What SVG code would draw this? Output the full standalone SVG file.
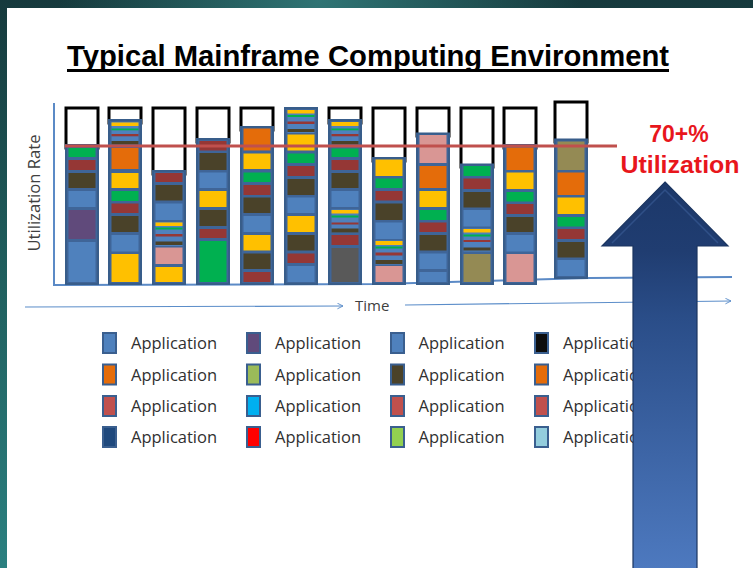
<svg xmlns="http://www.w3.org/2000/svg" width="753" height="568" viewBox="0 0 753 568">
  <defs>
    <linearGradient id="bgFade" x1="0" y1="0" x2="0" y2="1">
      <stop offset="0" stop-color="#163a3d"/>
      <stop offset="0.5" stop-color="#20605f"/>
      <stop offset="1" stop-color="#2b8080"/>
    </linearGradient>
    <radialGradient id="bgGlow" cx="320" cy="0" r="260" gradientUnits="userSpaceOnUse">
      <stop offset="0" stop-color="#2f7474" stop-opacity="1"/>
      <stop offset="1" stop-color="#2f7474" stop-opacity="0"/>
    </radialGradient>
    <linearGradient id="upArrowFill" x1="0" y1="182" x2="0" y2="568" gradientUnits="userSpaceOnUse">
      <stop offset="0" stop-color="#1c386a"/>
      <stop offset="0.18" stop-color="#203d71"/>
      <stop offset="0.35" stop-color="#2a4d88"/>
      <stop offset="1" stop-color="#4d79bf"/>
    </linearGradient>
    <marker id="chev" viewBox="0 0 10 10" refX="9" refY="5" markerWidth="7" markerHeight="7" orient="auto" markerUnits="userSpaceOnUse">
      <path d="M1,1 L9,5 L1,9" fill="none" stroke="#5b8dc9" stroke-width="1.3"/>
    </marker>
  </defs>
  <style>
    .frame { fill: #ffffff; stroke: #000000; stroke-width: 3; }
    .stack { fill: #3f6598; stroke: #385d8a; stroke-width: 2; }
    .g { fill: #00b050; } .r { fill: #953735; } .d { fill: #4a4229; }
    .b { fill: #4f81bd; } .y { fill: #ffc000; } .o { fill: #e46c0a; }
    .p { fill: #604a7b; } .k { fill: #d99694; } .v { fill: #948a54; }
    .s { fill: #595959; }
    .sw { stroke: #3a5f8f; stroke-width: 2; }
    .lt { font-family: "Open Sans", "Liberation Sans", sans-serif; font-size: 16.5px; fill: #303030; }
    .axis { fill: none; stroke: #5b8ac6; stroke-width: 2; }
    .time { fill: none; stroke: #5b8dc9; stroke-width: 1.2; }
  </style>

  <!-- backdrop and white slide panel -->
  <rect x="0" y="0" width="753" height="568" fill="url(#bgFade)"/>
  <rect x="0" y="0" width="753" height="568" fill="url(#bgGlow)"/>
  <rect x="7" y="8" width="746" height="560" fill="#ffffff"/>

  <!-- title -->
  <g id="title">
    <text x="67" y="66" font-family="Liberation Sans, Arial, sans-serif" font-weight="bold" font-size="29" fill="#000" textLength="602" lengthAdjust="spacingAndGlyphs">Typical Mainframe Computing Environment</text>
    <rect x="67" y="69" width="602" height="3" fill="#000"/>
  </g>

  <!-- axes -->
  <g id="axes">
    <line class="axis" x1="54" y1="103" x2="54" y2="285"/>
    <polyline class="axis" points="53,285 380,284 590,278 732,277"/>
    <text transform="translate(40,193) rotate(-90)" text-anchor="middle" font-family="Open Sans, Liberation Sans, sans-serif" font-size="16" fill="#404040" textLength="117" lengthAdjust="spacingAndGlyphs">Utilization Rate</text>
  </g>

  <!-- bars: empty capacity frame + stacked workload -->
  <g id="bar1">
    <rect class="frame" x="66" y="108" width="32" height="40"/>
    <rect class="stack" x="66" y="145" width="32" height="139"/>
    <rect class="g" x="68.5" y="148" width="27" height="9"/>
    <rect class="r" x="68.5" y="160" width="27" height="10"/>
    <rect class="d" x="68.5" y="173" width="27" height="15"/>
    <rect class="b" x="68.5" y="191" width="27" height="16"/>
    <rect class="p" x="68.5" y="210" width="27" height="29"/>
    <rect class="b" x="68.5" y="242" width="27" height="40"/>
  </g>
  <g id="bar2">
    <rect class="frame" x="109" y="108" width="32" height="15"/>
    <rect class="stack" x="109" y="120" width="32" height="164"/>
    <rect class="b" x="111.5" y="122" width="27" height="23"/>
    <rect class="y" x="111.5" y="122.5" width="27" height="3.5"/>
    <rect class="g" x="111.5" y="128.5" width="27" height="1.8"/>
    <rect class="r" x="111.5" y="134" width="27" height="2.3"/>
    <rect class="d" x="111.5" y="141" width="27" height="3.5"/>
    <rect class="o" x="111.5" y="148" width="27" height="21"/>
    <rect class="y" x="111.5" y="173" width="27" height="15"/>
    <rect class="g" x="111.5" y="191" width="27" height="10"/>
    <rect class="r" x="111.5" y="203.5" width="27" height="9.5"/>
    <rect class="d" x="111.5" y="216" width="27" height="16"/>
    <rect class="b" x="111.5" y="235" width="27" height="16.5"/>
    <rect class="y" x="111.5" y="254" width="27" height="28"/>
  </g>
  <g id="bar3">
    <rect class="frame" x="153" y="108" width="32" height="66"/>
    <rect class="stack" x="153" y="171" width="32" height="113"/>
    <rect class="r" x="155.5" y="173" width="27" height="9"/>
    <rect class="d" x="155.5" y="185" width="27" height="15.5"/>
    <rect class="b" x="155.5" y="203.5" width="27" height="16.5"/>
    <rect class="b" x="155.5" y="222" width="27" height="24"/>
    <rect class="y" x="155.5" y="222.5" width="27" height="3.5"/>
    <rect class="g" x="155.5" y="227.5" width="27" height="2"/>
    <rect class="r" x="155.5" y="234" width="27" height="2.5"/>
    <rect class="d" x="155.5" y="241.5" width="27" height="3.5"/>
    <rect class="k" x="155.5" y="247.5" width="27" height="16.5"/>
    <rect class="y" x="155.5" y="267" width="27" height="15"/>
  </g>
  <g id="bar4">
    <rect class="frame" x="197" y="108" width="32" height="34"/>
    <rect class="stack" x="197" y="139" width="32" height="145"/>
    <rect class="r" x="199.5" y="141" width="27" height="9.5"/>
    <rect class="d" x="199.5" y="153" width="27" height="17"/>
    <rect class="b" x="199.5" y="172.5" width="27" height="15.5"/>
    <rect class="y" x="199.5" y="191" width="27" height="16"/>
    <rect class="d" x="199.5" y="210" width="27" height="16"/>
    <rect class="r" x="199.5" y="229" width="27" height="9"/>
    <rect class="g" x="199.5" y="241" width="27" height="41"/>
  </g>
  <g id="bar5">
    <rect class="frame" x="241" y="108" width="32" height="22"/>
    <rect class="stack" x="241" y="127" width="32" height="157"/>
    <rect class="o" x="243.5" y="128.5" width="27" height="22"/>
    <rect class="y" x="243.5" y="153.5" width="27" height="15.5"/>
    <rect class="g" x="243.5" y="172.5" width="27" height="9.5"/>
    <rect class="r" x="243.5" y="185" width="27" height="10"/>
    <rect class="d" x="243.5" y="197.5" width="27" height="15.5"/>
    <rect class="b" x="243.5" y="216" width="27" height="16"/>
    <rect class="y" x="243.5" y="235" width="27" height="15.5"/>
    <rect class="d" x="243.5" y="253.5" width="27" height="15.5"/>
    <rect class="r" x="243.5" y="272" width="27" height="10"/>
  </g>
  <g id="bar6">
    <rect class="stack" x="285" y="108" width="32" height="176"/>
    <rect class="b" x="287.5" y="110" width="27" height="23"/>
    <rect class="y" x="287.5" y="110" width="27" height="3.5"/>
    <rect class="g" x="287.5" y="115" width="27" height="2"/>
    <rect class="r" x="287.5" y="121.5" width="27" height="2.5"/>
    <rect class="d" x="287.5" y="129" width="27" height="3"/>
    <rect class="y" x="287.5" y="134.5" width="27" height="16"/>
    <rect class="g" x="287.5" y="153.5" width="27" height="9.5"/>
    <rect class="r" x="287.5" y="166" width="27" height="10"/>
    <rect class="d" x="287.5" y="179" width="27" height="16"/>
    <rect class="b" x="287.5" y="197.5" width="27" height="15.5"/>
    <rect class="y" x="287.5" y="216" width="27" height="16"/>
    <rect class="d" x="287.5" y="235" width="27" height="15.5"/>
    <rect class="r" x="287.5" y="253.5" width="27" height="9.5"/>
    <rect class="b" x="287.5" y="266" width="27" height="16"/>
  </g>
  <g id="bar7">
    <rect class="frame" x="329" y="108" width="32" height="15"/>
    <rect class="stack" x="329" y="120" width="32" height="164"/>
    <rect class="b" x="331.5" y="122" width="27" height="23"/>
    <rect class="y" x="331.5" y="122" width="27" height="4"/>
    <rect class="g" x="331.5" y="128.5" width="27" height="1.8"/>
    <rect class="r" x="331.5" y="134" width="27" height="2.3"/>
    <rect class="d" x="331.5" y="141" width="27" height="3.5"/>
    <rect class="g" x="331.5" y="148.5" width="27" height="8.5"/>
    <rect class="r" x="331.5" y="160" width="27" height="10"/>
    <rect class="d" x="331.5" y="173" width="27" height="15"/>
    <rect class="b" x="331.5" y="191" width="27" height="16"/>
    <rect class="b" x="331.5" y="209.5" width="27" height="23"/>
    <rect class="y" x="331.5" y="210" width="27" height="3.5"/>
    <rect class="g" x="331.5" y="215.5" width="27" height="2"/>
    <rect class="r" x="331.5" y="222.5" width="27" height="2"/>
    <rect class="d" x="331.5" y="228.5" width="27" height="4"/>
    <rect class="r" x="331.5" y="235" width="27" height="10"/>
    <rect class="s" x="331.5" y="248" width="27" height="34"/>
  </g>
  <g id="bar8">
    <rect class="frame" x="373" y="108" width="32" height="53"/>
    <rect class="stack" x="373" y="158" width="32" height="126"/>
    <rect class="y" x="375.5" y="159.5" width="27" height="16.5"/>
    <rect class="g" x="375.5" y="178.5" width="27" height="9.5"/>
    <rect class="r" x="375.5" y="191" width="27" height="9.5"/>
    <rect class="d" x="375.5" y="203.5" width="27" height="16.5"/>
    <rect class="b" x="375.5" y="222.5" width="27" height="16.5"/>
    <rect class="b" x="375.5" y="240.5" width="27" height="24"/>
    <rect class="y" x="375.5" y="241" width="27" height="4"/>
    <rect class="g" x="375.5" y="246.5" width="27" height="2"/>
    <rect class="r" x="375.5" y="252.5" width="27" height="3"/>
    <rect class="d" x="375.5" y="260" width="27" height="4"/>
    <rect class="k" x="375.5" y="266" width="27" height="16"/>
  </g>
  <g id="bar9">
    <rect class="frame" x="417" y="108" width="32" height="28"/>
    <rect class="stack" x="417" y="133.5" width="32" height="150.5"/>
    <rect class="k" x="419.5" y="135" width="27" height="28"/>
    <rect class="o" x="419.5" y="166" width="27" height="22"/>
    <rect class="y" x="419.5" y="191" width="27" height="16"/>
    <rect class="g" x="419.5" y="210" width="27" height="10"/>
    <rect class="r" x="419.5" y="222.5" width="27" height="9.5"/>
    <rect class="d" x="419.5" y="235" width="27" height="15.5"/>
    <rect class="b" x="419.5" y="253.5" width="27" height="15.5"/>
    <rect class="b" x="419.5" y="272" width="27" height="10"/>
  </g>
  <g id="bar10">
    <rect class="frame" x="461" y="108" width="32" height="59"/>
    <rect class="stack" x="461" y="164.5" width="32" height="119.5"/>
    <rect class="g" x="463.5" y="166" width="27" height="10"/>
    <rect class="r" x="463.5" y="178.5" width="27" height="10.5"/>
    <rect class="d" x="463.5" y="192" width="27" height="15.5"/>
    <rect class="b" x="463.5" y="210" width="27" height="16.5"/>
    <rect class="b" x="463.5" y="228.5" width="27" height="23"/>
    <rect class="y" x="463.5" y="229" width="27" height="3.5"/>
    <rect class="g" x="463.5" y="234.5" width="27" height="2"/>
    <rect class="r" x="463.5" y="240" width="27" height="2"/>
    <rect class="d" x="463.5" y="247.5" width="27" height="3"/>
    <rect class="v" x="463.5" y="254" width="27" height="28"/>
  </g>
  <g id="bar11">
    <rect class="frame" x="504" y="108" width="32" height="40"/>
    <rect class="stack" x="504" y="145" width="32" height="139"/>
    <rect class="o" x="506.5" y="147.5" width="27" height="22.5"/>
    <rect class="y" x="506.5" y="172.5" width="27" height="16.5"/>
    <rect class="g" x="506.5" y="192" width="27" height="9.5"/>
    <rect class="r" x="506.5" y="204" width="27" height="10"/>
    <rect class="d" x="506.5" y="217" width="27" height="15"/>
    <rect class="b" x="506.5" y="235" width="27" height="16.5"/>
    <rect class="k" x="506.5" y="254" width="27" height="28"/>
  </g>
  <g id="bar12">
    <rect class="frame" x="555" y="102" width="32" height="40"/>
    <rect class="stack" x="555" y="139.5" width="32" height="138.5"/>
    <rect class="v" x="557.5" y="141.5" width="27" height="28.5"/>
    <rect class="o" x="557.5" y="172.5" width="27" height="22.5"/>
    <rect class="y" x="557.5" y="197.5" width="27" height="16.5"/>
    <rect class="g" x="557.5" y="217" width="27" height="9.5"/>
    <rect class="r" x="557.5" y="229" width="27" height="10"/>
    <rect class="d" x="557.5" y="242" width="27" height="15.5"/>
    <rect class="b" x="557.5" y="260" width="27" height="16"/>
  </g>

  <!-- 70% threshold line -->
  <g id="threshold">
    <line x1="65" y1="146" x2="617" y2="146" stroke="#c0504d" stroke-width="3"/>
  </g>

  <!-- time axis arrows -->
  <g id="connectors">
    <line class="time" x1="25" y1="307" x2="343" y2="306" marker-end="url(#chev)"/>
    <line class="time" x1="405" y1="305" x2="731" y2="301" marker-end="url(#chev)"/>
  </g>
  <g id="timeLabel">
    <text x="355" y="311" font-family="Open Sans, Liberation Sans, sans-serif" font-size="15" fill="#404040">Time</text>
  </g>

  <!-- legend -->
  <g id="legend">
    <rect class="sw" x="103" y="333" width="13" height="20" fill="#4f81bd"/>
    <rect class="sw" x="103" y="364.5" width="13" height="20" fill="#e46c0a"/>
    <rect class="sw" x="103" y="396" width="13" height="20" fill="#c0504d"/>
    <rect class="sw" x="103" y="427" width="13" height="20" fill="#1f497d"/>
    <rect class="sw" x="247" y="333" width="13" height="20" fill="#604a7b"/>
    <rect class="sw" x="247" y="364.5" width="13" height="20" fill="#9bbb59"/>
    <rect class="sw" x="247" y="396" width="13" height="20" fill="#00b0f0"/>
    <rect class="sw" x="247" y="427" width="13" height="20" fill="#ff0000"/>
    <rect class="sw" x="391" y="333" width="13" height="20" fill="#4f81bd"/>
    <rect class="sw" x="391" y="364.5" width="13" height="20" fill="#4a4229"/>
    <rect class="sw" x="391" y="396" width="13" height="20" fill="#c0504d"/>
    <rect class="sw" x="391" y="427" width="13" height="20" fill="#92d050"/>
    <rect class="sw" x="535" y="333" width="13" height="20" fill="#0d0d0d"/>
    <rect class="sw" x="535" y="364.5" width="13" height="20" fill="#e46c0a"/>
    <rect class="sw" x="535" y="396" width="13" height="20" fill="#c0504d"/>
    <rect class="sw" x="535" y="427" width="13" height="20" fill="#93cddd"/>

    <text class="lt" x="131" y="349" textLength="86">Application</text>
    <text class="lt" x="131" y="380.5" textLength="86">Application</text>
    <text class="lt" x="131" y="412" textLength="86">Application</text>
    <text class="lt" x="131" y="443" textLength="86">Application</text>
    <text class="lt" x="275" y="349" textLength="86">Application</text>
    <text class="lt" x="275" y="380.5" textLength="86">Application</text>
    <text class="lt" x="275" y="412" textLength="86">Application</text>
    <text class="lt" x="275" y="443" textLength="86">Application</text>
    <text class="lt" x="418.5" y="349" textLength="86">Application</text>
    <text class="lt" x="418.5" y="380.5" textLength="86">Application</text>
    <text class="lt" x="418.5" y="412" textLength="86">Application</text>
    <text class="lt" x="418.5" y="443" textLength="86">Application</text>
    <text class="lt" x="563" y="349" textLength="86">Application</text>
    <text class="lt" x="563" y="380.5" textLength="86">Application</text>
    <text class="lt" x="563" y="412" textLength="86">Application</text>
    <text class="lt" x="563" y="443" textLength="86">Application</text>
  </g>

  <!-- utilization callout -->
  <g id="callout">
    <text x="679" y="142" text-anchor="middle" font-family="Liberation Sans, Arial, sans-serif" font-weight="bold" font-size="23" fill="#e8161c">70+%</text>
    <text x="680" y="172.5" text-anchor="middle" font-family="Liberation Sans, Arial, sans-serif" font-weight="bold" font-size="24" fill="#e8161c" textLength="119" lengthAdjust="spacingAndGlyphs">Utilization</text>
  </g>

  <!-- big up arrow -->
  <g id="upArrow">
    <polygon points="665,182 728,246 697,246 697,570 633,570 633,246 602,246" fill="url(#upArrowFill)" stroke="#1b3560" stroke-width="1.2"/>
    <path d="M612,243 L665,190 L718,243" fill="none" stroke="#3c5f99" stroke-width="1.5" stroke-opacity="0.6"/>
  </g>
</svg>
